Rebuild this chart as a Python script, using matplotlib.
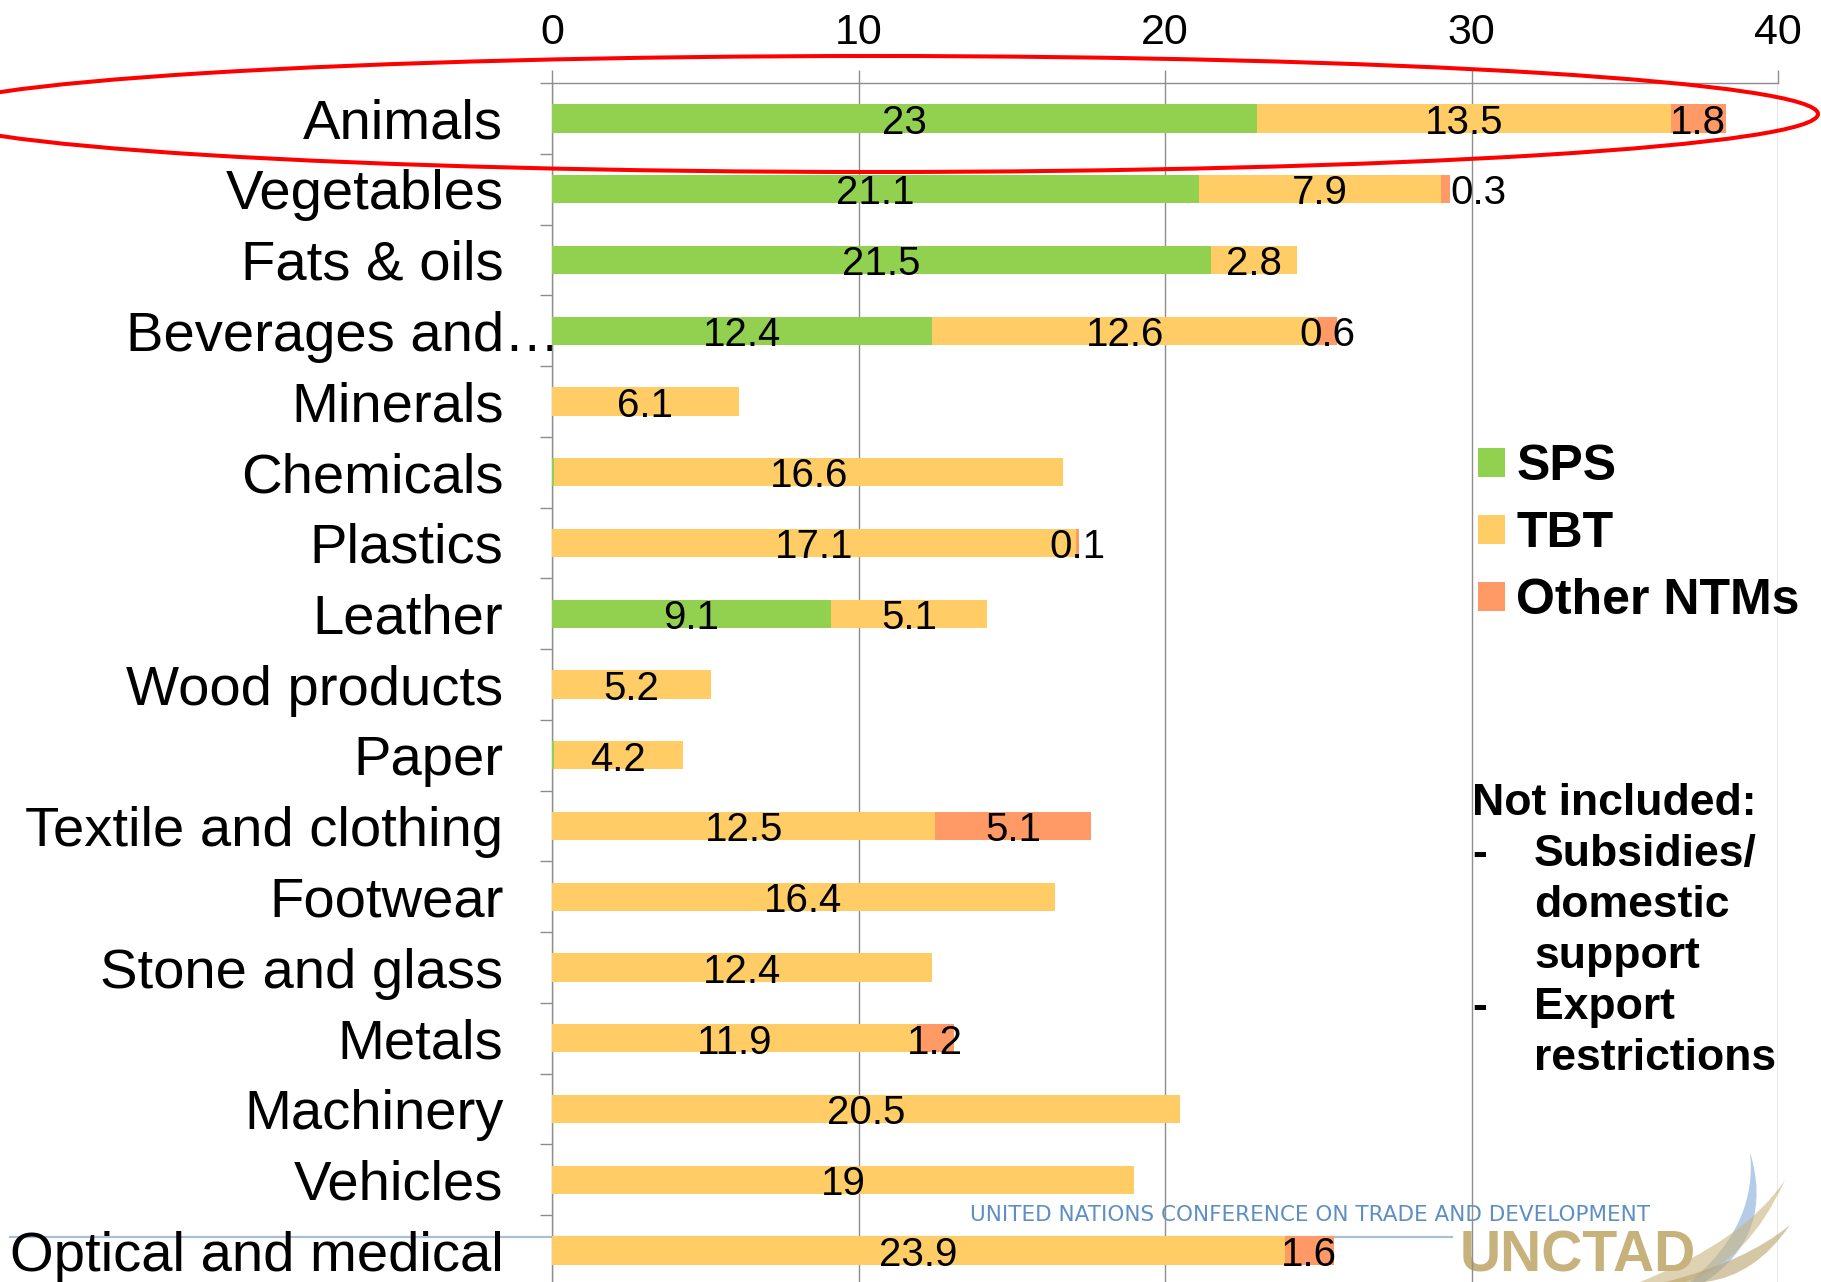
import matplotlib
matplotlib.use("Agg")
import matplotlib.pyplot as plt
import numpy as np
from matplotlib.patches import Ellipse, PathPatch
from matplotlib.path import Path
from matplotlib.lines import Line2D

plt.rcParams['font.family'] = ['Liberation Sans', 'DejaVu Sans']

categories = ["Animals", "Vegetables", "Fats & oils", "Beverages and\u2026", "Minerals",
              "Chemicals", "Plastics", "Leather", "Wood products", "Paper",
              "Textile and clothing", "Footwear", "Stone and glass", "Metals",
              "Machinery", "Vehicles", "Optical and medical"]
sps = [23, 21.1, 21.5, 12.4, 0, 0.08, 0, 9.1, 0, 0.06, 0, 0, 0, 0, 0, 0, 0]
tbt = [13.5, 7.9, 2.8, 12.6, 6.1, 16.6, 17.1, 5.1, 5.2, 4.2, 12.5, 16.4, 12.4, 11.9, 20.5, 19, 23.9]
other = [1.8, 0.3, 0, 0.6, 0, 0, 0.1, 0, 0, 0, 5.1, 0, 0, 1.2, 0, 0, 1.6]
series_names = ["SPS", "TBT", "Other NTMs"]
series_colors = ["#92D050", "#FFCC66", "#FF9966"]
x_ticks = [0, 10, 20, 30, 40]
note_lines = ["Not included:", "Subsidies/", "domestic", "support", "Export", "restrictions"]
note_dash = [False, True, False, False, True, False]

W, H = 1821, 1282
fig = plt.figure(figsize=(W / 100, H / 100), dpi=100)

def fx(x):
    return x / W

def fy(y):
    return 1 - y / H

ax = fig.add_axes([fx(552), fy(1286), fx(1778) - fx(552), fy(83) - fy(1286)])
ax.patch.set_alpha(0)
ax.set_zorder(1)

y = np.arange(len(categories))
gray = "#8E8E8E"
left = np.zeros(len(categories))
containers = []
for name, vals, col in zip(series_names, [sps, tbt, other], series_colors):
    vals = np.array(vals, dtype=float)
    bc = ax.barh(y, vals, left=left, height=0.4, color=col, label=name, zorder=3)
    containers.append(bc)
    for i, v in enumerate(vals):
        if v >= 0.1:
            txt = "{:g}".format(v)
            if name == "Other NTMs" and categories[i] == "Vegetables":
                ax.annotate(txt, (left[i] + v, y[i]), xytext=(0, -11), textcoords="offset points",
                            ha="left", va="baseline", fontsize=29, color="black", zorder=5)
            else:
                ax.annotate(txt, (left[i] + v / 2, y[i]), xytext=(0, -11), textcoords="offset points",
                            ha="center", va="baseline", fontsize=29, color="black", zorder=5)
    left = left + vals

ax.set_xlim(0, 40)
ax.set_ylim(len(categories) - 0.5, -0.5)
ax.xaxis.tick_top()
ax.set_xticks(x_ticks)
ax.set_xticklabels([str(t) for t in x_ticks])
ax.tick_params(axis="x", which="major", direction="out", length=9.4, width=1,
               color=gray, labelsize=31, pad=12, labelcolor="black")
ax.set_yticks(y)
ax.set_yticklabels(categories)
ax.set_yticks(np.arange(-0.5, len(categories), 1), minor=True)
ax.tick_params(axis="y", which="major", length=0, labelsize=40.5, pad=35)
ax.tick_params(axis="y", which="minor", direction="out", length=8.6, width=1, color=gray)
# the truncated label sits further right, touching the axis
ax.yaxis.get_major_ticks()[3].set_pad(-6)
ax.grid(axis="x", color=gray, linewidth=1, zorder=0)
ax.set_axisbelow(True)
for s in ["bottom", "right"]:
    ax.spines[s].set_visible(False)
for s in ["left", "top"]:
    ax.spines[s].set_color(gray)
    ax.spines[s].set_linewidth(1)

leg = ax.legend(handles=containers, loc="upper left",
                bbox_to_anchor=(fx(1478), fy(444)), bbox_transform=fig.transFigure,
                frameon=False, prop={"weight": "bold", "size": 36},
                handlelength=0.53, handleheight=0.53, handletextpad=0.24,
                labelspacing=0.42, borderpad=0, borderaxespad=0)

# "Not included" note
for k, (line, dash) in enumerate(zip(note_lines, note_dash)):
    yb = 815 + k * 51
    if k == 0:
        fig.text(fx(1472), fy(yb), line, fontsize=32, fontweight="bold", va="baseline", ha="left")
    else:
        fig.text(fx(1534), fy(yb), line, fontsize=32, fontweight="bold", va="baseline", ha="left")
    if dash:
        fig.text(fx(1472), fy(yb), "-", fontsize=32, fontweight="bold", va="baseline", ha="left")

# red ellipse highlighting Animals
ell = Ellipse((fx(874), fy(114)), 2 * 944 / W, 2 * 58 / H, transform=fig.transFigure,
              fill=False, edgecolor="#FF0000", linewidth=2.9, zorder=10)
fig.add_artist(ell)

# UNCTAD logo (behind axes)
fig.add_artist(Line2D([fx(10), fx(1452)], [fy(1237), fy(1237)], transform=fig.transFigure,
                      color="#A9BFD6", linewidth=1.6, zorder=-2))
fig.text(fx(1310), fy(1215), "UNITED NATIONS CONFERENCE ON TRADE AND DEVELOPMENT",
         fontsize=15.5, color="#5E8FC4", ha="center", va="center",
         family="DejaVu Sans", zorder=-1)
fig.text(fx(1578), fy(1272), "UNCTAD", fontsize=41, fontweight="bold", color="#C8B27C",
         ha="center", va="baseline", zorder=-1)

def swoosh(pts, color, alpha):
    verts = [(fx(px), fy(py)) for px, py in pts]
    codes = [Path.MOVETO, Path.CURVE3, Path.CURVE3, Path.LINETO, Path.CURVE3, Path.CURVE3, Path.CLOSEPOLY]
    verts.append(verts[0])
    p = PathPatch(Path(verts, codes), transform=fig.transFigure, facecolor=color,
                  edgecolor="none", alpha=alpha, zorder=-1)
    fig.add_artist(p)

swoosh([(1750, 1152), (1775, 1235), (1705, 1282), (1690, 1282), (1758, 1225), (1750, 1152)], "#A8C4E6", 0.85)
swoosh([(1640, 1282), (1745, 1240), (1785, 1180), (1785, 1180), (1748, 1262), (1685, 1282)], "#C9B47F", 0.6)
swoosh([(1665, 1282), (1745, 1262), (1790, 1225), (1790, 1225), (1755, 1276), (1705, 1282)], "#B9A36A", 0.6)

fig.savefig("out.png", dpi=100)
